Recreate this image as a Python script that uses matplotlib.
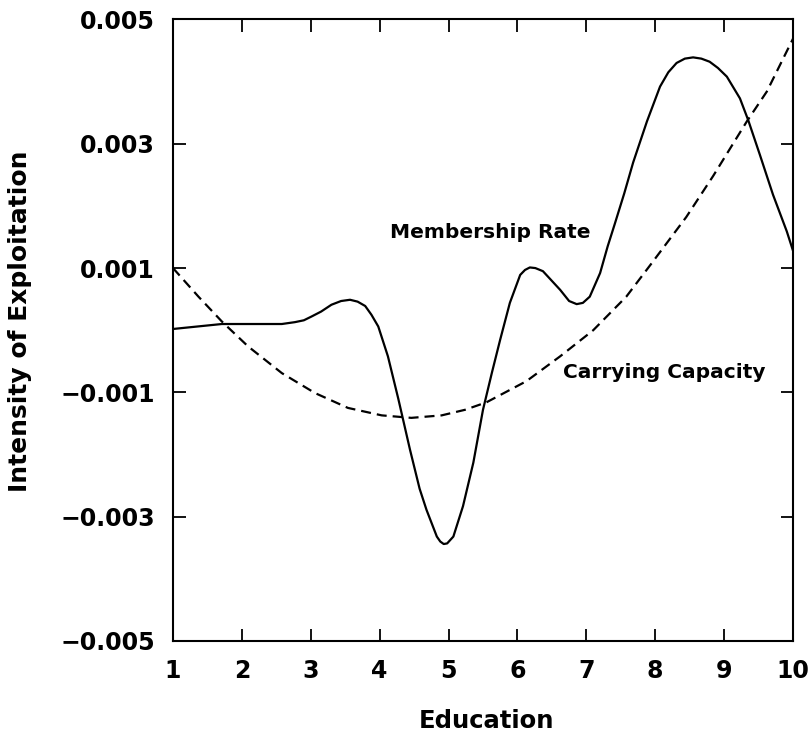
# 教育程度与剥削强度曲线（Membership Rate / Carrying Capacity）

import numpy as np
import matplotlib.pyplot as plt

# ==== 数据 ====
member_x = [1.0, 1.71, 2.58, 2.77, 2.90, 3.01, 3.15, 3.30, 3.44, 3.57,
            3.68, 3.79, 3.88, 3.98, 4.12, 4.27, 4.44, 4.58, 4.68, 4.83,
            4.88, 4.93, 4.98, 5.07, 5.21, 5.36, 5.50, 5.63, 5.75, 5.89,
            6.04, 6.11, 6.18, 6.26, 6.37, 6.62, 6.75, 6.86, 6.95, 7.05,
            7.20, 7.31, 7.41, 7.55, 7.68, 7.88, 8.07, 8.19, 8.31, 8.43,
            8.55, 8.67, 8.79, 8.91, 9.04, 9.23, 9.35, 9.52, 9.71, 9.91,
            10.0]
member_y = [0.00002, 0.0001, 0.0001, 0.00013, 0.00016, 0.00022, 0.0003, 0.00041, 0.00047, 0.00049,
            0.00046, 0.00039, 0.00025, 0.00006, -0.00042, -0.0011, -0.00192, -0.00255, -0.00289, -0.00332,
            -0.0034, -0.00344, -0.00343, -0.00332, -0.00283, -0.00213, -0.00128, -0.00068, -0.00015, 0.00044,
            0.00089, 0.00097, 0.00101, 0.001, 0.00095, 0.00065, 0.00047, 0.00042, 0.00044, 0.00054,
            0.00092, 0.00135, 0.0017, 0.0022, 0.0027, 0.00336, 0.00392, 0.00415, 0.0043, 0.00437,
            0.00439, 0.00437, 0.00432, 0.00422, 0.00408, 0.00373, 0.00338, 0.00282, 0.00218, 0.00159,
            0.00128]

carry_x = [1.0, 1.37, 1.71, 2.09, 2.58, 3.06, 3.54, 4.03, 4.46, 4.90, 5.24,
           5.55, 6.13, 6.62, 7.10, 7.58, 7.95, 8.45, 8.84, 9.33, 9.62, 10.0]
carry_y = [0.001, 0.00054, 0.00014, -0.00026, -0.00069, -0.00101, -0.00125, -0.00137, -0.00141, -0.00137, -0.00128,
           -0.00116, -0.00082, -0.00042, 0.0, 0.00054, 0.00108, 0.00182, 0.00248, 0.00336, 0.00384, 0.00469]

x_ticks = [1, 2, 3, 4, 5, 6, 7, 8, 9, 10]
y_ticks = [-0.005, -0.003, -0.001, 0.001, 0.003, 0.005]
y_tick_labels = ["\u22120.005", "\u22120.003", "\u22120.001", "0.001", "0.003", "0.005"]

# ==== 绘图 ====
plt.rcParams['font.family'] = ['DejaVu Sans']
plt.rcParams['font.weight'] = 'bold'

fig = plt.figure(figsize=(8.11, 7.43), dpi=100)
ax = fig.add_axes([0.2133, 0.1373, 0.7645, 0.8365])

ax.plot(member_x, member_y, color='black', lw=1.6,
        solid_joinstyle='round', solid_capstyle='round')
ax.plot(carry_x, carry_y, color='black', lw=1.6, dashes=(4.5, 2.7))

ax.text(5.60, 0.00157, "Membership Rate", fontsize=14.5, fontweight='bold',
        ha='center', va='center')
ax.text(8.13, -0.00068, "Carrying Capacity", fontsize=14.5, fontweight='bold',
        ha='center', va='center')

ax.set_xlim(1, 10)
ax.set_ylim(-0.005, 0.005)
ax.set_xticks(x_ticks)
ax.set_xticklabels([str(t) for t in x_ticks])
ax.set_yticks(y_ticks)
ax.set_yticklabels(y_tick_labels)

ax.tick_params(direction='in', length=9, width=1.3, top=True, right=True,
               labelsize=17, pad=13)
for lab in ax.get_xticklabels() + ax.get_yticklabels():
    lab.set_fontweight('bold')
for sp in ax.spines.values():
    sp.set_linewidth(1.5)

ax.set_xlabel("Education", fontsize=17.5, fontweight='bold')
ax.xaxis.set_label_coords(0.505, -0.109)
ax.set_ylabel("Intensity of Exploitation", fontsize=18, fontweight='bold')
ax.yaxis.set_label_coords(-0.227, 0.515)

fig.savefig("out.png", dpi=100)
